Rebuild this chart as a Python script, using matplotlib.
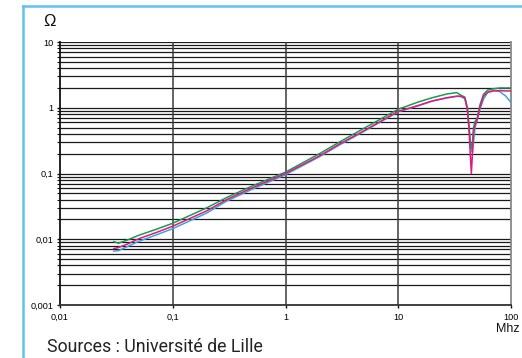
import matplotlib
matplotlib.use("Agg")
import matplotlib.pyplot as plt
from matplotlib.lines import Line2D
from matplotlib.ticker import FixedLocator, NullFormatter

# Frequency (MHz) and measured impedance (ohm) for the three samples
freq_mhz = [0.03, 0.033, 0.04, 0.05, 0.07, 0.1, 0.2, 0.3, 0.5, 1, 2, 3, 5, 10,
            15, 20, 27, 33, 36, 39, 41, 42.5, 43.5, 44.5, 45.5, 46.5, 48, 50,
            53, 57, 62, 70, 80, 90, 100]

green_ohm = [0.0092, 0.0087, 0.0098, 0.0115, 0.0140, 0.0175, 0.030, 0.043, 0.064,
             0.105, 0.20, 0.30, 0.49, 0.95,
             1.22, 1.42, 1.62, 1.70, 1.55, 1.45, 1.0, 0.5, 0.3, 0.24, 0.3, 0.5,
             0.62, 0.68, 1.1, 1.6, 1.85, 1.95, 2.0, 2.0, 2.0]

magenta_ohm = [0.0072, 0.0075, 0.0085, 0.0102, 0.0125, 0.0158, 0.027, 0.040, 0.060,
               0.100, 0.185, 0.28, 0.45, 0.88,
               1.08, 1.27, 1.42, 1.50, 1.50, 1.40, 0.95, 0.45, 0.2, 0.10, 0.2, 0.42,
               0.55, 0.65, 1.0, 1.5, 1.72, 1.8, 1.82, 1.8, 1.8]

blue_ohm = [0.0066, 0.0067, 0.0078, 0.0093, 0.0115, 0.0145, 0.025, 0.038, 0.057,
            0.096, 0.18, 0.27, 0.44, 0.87,
            1.07, 1.26, 1.41, 1.49, 1.48, 1.38, 0.95, 0.5, 0.3, 0.22, 0.21, 0.3,
            0.5, 0.65, 0.95, 1.35, 1.7, 1.85, 1.75, 1.5, 1.2]

x_ticks = [0.01, 0.1, 1, 10, 100]
x_labels = ["0,01", "0,1", "1", "10", "100"]
y_ticks = [0.001, 0.01, 0.1, 1, 10]
y_labels = ["0,001", "0,01", "0,1", "1", "10"]

W, H = 522, 358
fig = plt.figure(figsize=(W / 100, H / 100), dpi=100)
fig.patch.set_facecolor("white")

# light blue frame on the left and top
frame_c = "#5ec3ee"
fig.add_artist(Line2D([23 / W, 23 / W], [0, 1 - 6 / H], color=frame_c, lw=1.8,
                      transform=fig.transFigure))
fig.add_artist(Line2D([23 / W, 1], [1 - 6 / H, 1 - 6 / H], color=frame_c, lw=1.8,
                      transform=fig.transFigure))

ax = fig.add_axes([60 / W, 1 - 305 / H, (511 - 60) / W, (305 - 42) / H])
ax.set_xscale("log")
ax.set_yscale("log")
ax.set_xlim(0.01, 100)
ax.set_ylim(0.001, 10)

# horizontal grid at every 1..9 step of each decade, vertical grid at decades
minor_y = [m * 10.0 ** e for e in range(-3, 1) for m in range(2, 10)]
for y in minor_y + y_ticks:
    ax.axhline(y, color="#1a1a1a", lw=0.9, zorder=1)
for x in x_ticks[1:-1]:
    ax.axvline(x, color="#3a3a3a", lw=1.1, zorder=1)

ax.plot(freq_mhz, blue_ohm, color="#3aa6e0", lw=1.1, zorder=3)
ax.plot(freq_mhz, green_ohm, color="#1c9a4c", lw=1.1, zorder=4)
ax.plot(freq_mhz, magenta_ohm, color="#e2197f", lw=1.1, zorder=5)

ax.spines["top"].set_visible(False)
ax.spines["left"].set_color("#111111")
ax.spines["left"].set_linewidth(1.3)
ax.spines["bottom"].set_color("#333333")
ax.spines["bottom"].set_linewidth(1.3)
ax.spines["right"].set_color("#888888")
ax.spines["right"].set_linewidth(1.3)

tick_font = dict(family=["Liberation Sans", "DejaVu Sans"], size=6.6)
ax.xaxis.set_major_locator(FixedLocator(x_ticks))
ax.xaxis.set_minor_formatter(NullFormatter())
ax.xaxis.set_minor_locator(FixedLocator([]))
ax.set_xticklabels(x_labels, **tick_font)
ax.yaxis.set_major_locator(FixedLocator(y_ticks))
ax.yaxis.set_minor_locator(FixedLocator(minor_y))
ax.yaxis.set_minor_formatter(NullFormatter())
ax.set_yticklabels(y_labels, **tick_font)
ax.tick_params(axis="both", which="major", length=2.5, width=1.0, pad=2,
               color="#111111")
ax.tick_params(axis="y", which="minor", length=2, width=0.8, color="#111111")
ax.tick_params(axis="x", which="major", pad=3)

fig.text(50 / W, 1 - 22 / H, "Ω", fontsize=12, ha="center", va="center",
         family=["Liberation Sans", "DejaVu Sans"], color="#111111")
fig.text(520 / W, 1 - 329 / H, "Mhz", fontsize=9, ha="right", va="center",
         family=["Liberation Sans", "DejaVu Sans"], color="#111111")
fig.text(47 / W, 1 - 347 / H, "Sources : Université de Lille", fontsize=12.8,
         ha="left", va="center", family=["Roboto", "DejaVu Sans"], color="#222222")

fig.savefig("out.png", dpi=100)
